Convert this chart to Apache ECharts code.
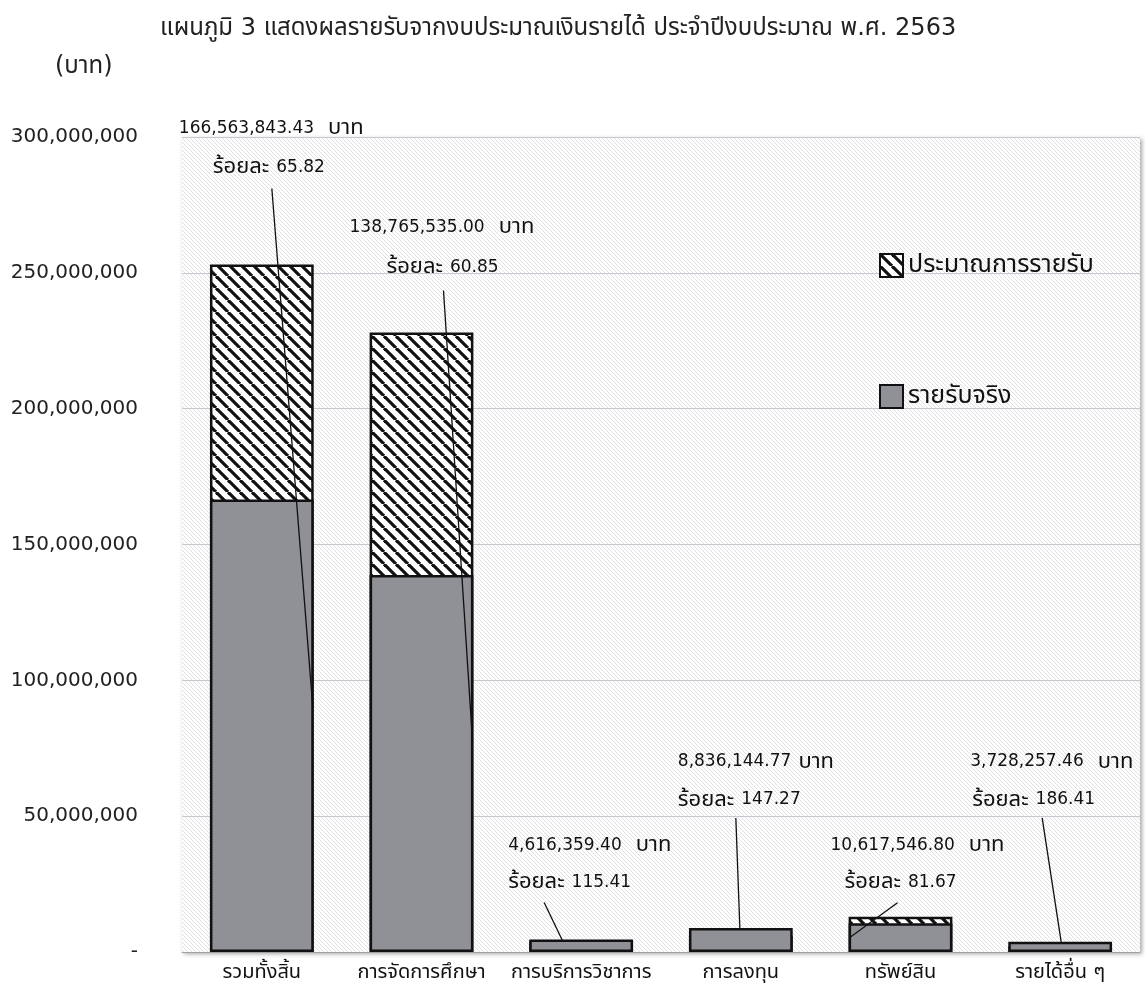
<!DOCTYPE html>
<html>
<head>
<meta charset="utf-8">
<script src="https://cdn.jsdelivr.net/npm/echarts@6/dist/echarts.min.js"></script>
<style>
  html, body { margin: 0; padding: 0; background: #fff; }
  #chart { width: 1145px; height: 1002px; }
</style>
</head>
<body>
<div id="chart"></div>
<script>
// ---------- data ----------
const titleText = 'แผนภูมิ 3 แสดงผลรายรับจากงบประมาณเงินรายได้ ประจำปีงบประมาณ พ.ศ. 2563';
const unitText = '(บาท)';
const categories = ['รวมทั้งสิ้น', 'การจัดการศึกษา', 'การบริการวิชาการ', 'การลงทุน', 'ทรัพย์สิน', 'รายได้อื่น ๆ'];
const seriesNames = ['ประมาณการรายรับ', 'รายรับจริง'];
const budget = [253060000, 228040000, 4000000, 6000000, 13000000, 2000000];
const actual = [166563843.43, 138765535.00, 4616359.40, 8836144.77, 10617546.80, 3728257.46];
const amountLabels = ['166,563,843.43  บาท', '138,765,535.00  บาท', '4,616,359.40  บาท', '8,836,144.77 บาท', '10,617,546.80  บาท', '3,728,257.46  บาท'];
const percentLabels = ['ร้อยละ 65.82', 'ร้อยละ 60.85', 'ร้อยละ 115.41', 'ร้อยละ 147.27', 'ร้อยละ 81.67', 'ร้อยละ 186.41'];
const yTicks = [0, 50000000, 100000000, 150000000, 200000000, 250000000, 300000000];
const yTickLabels = ['-', '50,000,000', '100,000,000', '150,000,000', '200,000,000', '250,000,000', '300,000,000'];

// ---------- annotation layout (pixel offsets from bar centre / bar top) ----------
const annotLayout = [
  { l1: [-83, -136], l2: [-49, -97], s: [10, -76],  e: [51, 0.54] },
  { l1: [-72, -105], l2: [-35, -65], s: [22, -42],  e: [51, 0.56] },
  { l1: [-73, -94],  l2: [-73, -57], s: [-37, -37], e: [-19, 0.95] },
  { l1: [-63, -166], l2: [-63, -128], s: [-5, -110], e: [-1, 1.0] },
  { l1: [-70, -71],  l2: [-56, -34], s: [-3, -14],  e: [-50, 0.52] },
  { l1: [-90, -180], l2: [-88, -142], s: [-18, -124], e: [1, 1.0] }
];

const FONT = "'DejaVu Sans', 'Noto Sans Thai', 'Noto Sans', sans-serif";

function hatch(size, lineW, color, bg) {
  const c = document.createElement('canvas');
  c.width = size; c.height = size;
  const g = c.getContext('2d');
  g.fillStyle = bg; g.fillRect(0, 0, size, size);
  g.strokeStyle = color; g.lineWidth = lineW;
  for (let k = -1; k <= 1; k++) {
    g.beginPath();
    g.moveTo(k * size, 0);
    g.lineTo(k * size + size, size);
    g.stroke();
  }
  return { image: c, repeat: 'repeat' };
}

function toRich(s) {
  return s.replace(/([0-9.,]+)|([^0-9.,]+)/g, function (m, num, txt) {
    return num ? '{n|' + num + '}' : '{t|' + txt + '}';
  });
}
const richStyles = {
  n: { fontFamily: FONT, fontSize: 17, fill: '#111' },
  t: { fontFamily: FONT, fontSize: 22, fill: '#111' }
};

const bgPattern = hatch(4, 0.7, '#d2d2d8', '#ffffff');
const barPattern = hatch(12, 3.2, '#111111', '#ffffff');

const chart = echarts.init(document.getElementById('chart'));

const option = {
  backgroundColor: '#ffffff',
  animation: false,
  title: [
    { text: titleText, left: 155, top: 12, textStyle: { fontFamily: FONT, fontSize: 24, fontWeight: 'normal', color: '#222' } },
    { text: unitText, left: 50, top: 50, textStyle: { fontFamily: FONT, fontSize: 24, fontWeight: 'normal', color: '#222' } }
  ],
  legend: {
    data: seriesNames,
    orient: 'vertical',
    left: 874,
    top: 248,
    itemGap: 106,
    itemWidth: 23,
    itemHeight: 23,
    icon: 'rect',
    textStyle: { fontFamily: FONT, fontSize: 25, color: '#111' }
  },
  grid: {
    left: 182, right: 5, top: 137, bottom: 50,
    show: true,
    backgroundColor: bgPattern,
    borderWidth: 0,
    shadowColor: 'rgba(0,0,0,0.35)',
    shadowBlur: 4,
    shadowOffsetX: 2,
    shadowOffsetY: 2
  },
  xAxis: {
    type: 'category',
    data: categories,
    axisLine: { show: true, lineStyle: { color: '#a0a0a0', width: 1 } },
    axisTick: { show: false },
    axisLabel: { fontFamily: FONT, fontSize: 20, color: '#111', margin: 11, interval: 0 }
  },
  yAxis: {
    type: 'value',
    min: 0, max: 300000000, interval: 50000000,
    axisLine: { show: false },
    axisTick: { show: false },
    splitLine: { show: true, lineStyle: { color: '#c8c8d0', width: 1 } },
    axisLabel: {
      fontFamily: FONT, fontSize: 20, color: '#222', margin: 44,
      formatter: function (v) { const i = yTicks.indexOf(v); return i >= 0 ? yTickLabels[i] : ''; }
    }
  },
  series: [
    {
      name: seriesNames[0],
      type: 'bar',
      data: budget,
      barWidth: '65%',
      barGap: '-100%',
      itemStyle: { color: barPattern, borderColor: '#111', borderWidth: 2.5 },
      z: 2
    },
    {
      name: seriesNames[1],
      type: 'bar',
      data: actual,
      barWidth: '65%',
      barGap: '-100%',
      itemStyle: { color: '#909196', borderColor: '#111', borderWidth: 2.5 },
      z: 3
    },
    {
      type: 'custom',
      name: 'annot',
      clip: false,
      z: 10,
      silent: true,
      data: categories.map((c, i) => [i, actual[i], budget[i]]),
      encode: { x: 0, y: 1 },
      renderItem: function (params, api) {
        const i = params.dataIndex;
        const a = actual[i], b = budget[i];
        const topPt = api.coord([i, Math.max(a, b)]);
        const cx = topPt[0], yTop = topPt[1];
        const L = annotLayout[i];
        const endY = api.coord([i, a * L.e[1]])[1];
        return {
          type: 'group',
          children: [
            { type: 'text', style: { text: toRich(amountLabels[i]), rich: richStyles, x: cx + L.l1[0], y: yTop + L.l1[1], align: 'left', verticalAlign: 'middle' } },
            { type: 'text', style: { text: toRich(percentLabels[i]), rich: richStyles, x: cx + L.l2[0], y: yTop + L.l2[1], align: 'left', verticalAlign: 'middle' } },
            { type: 'line', shape: { x1: cx + L.s[0], y1: yTop + L.s[1], x2: cx + L.e[0], y2: endY }, style: { stroke: '#111', lineWidth: 1.3 } }
          ]
        };
      }
    }
  ]
};
chart.setOption(option);
</script>
</body>
</html>
